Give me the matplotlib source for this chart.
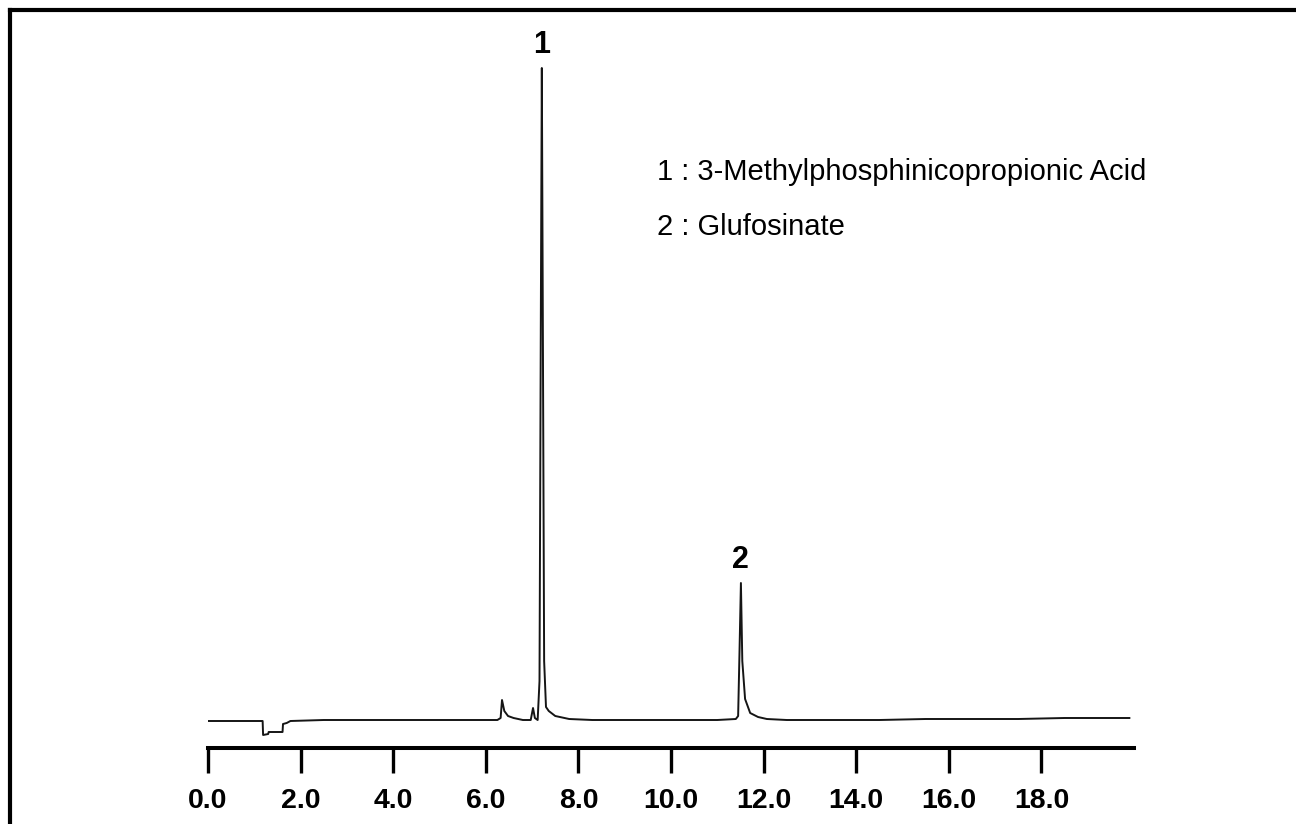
import numpy as np
import matplotlib
matplotlib.use("Agg")
import matplotlib.pyplot as plt
from matplotlib.lines import Line2D

plt.rcParams["font.family"] = ["Liberation Sans", "DejaVu Sans"]

# Chromatogram trace (time in min, signal above baseline)
time = [0.00, 0.60, 1.18, 1.19, 1.30, 1.31, 1.55, 1.61, 1.62, 1.70, 1.78, 2.50,
        3.50, 4.50, 5.50, 6.25, 6.32, 6.35, 6.40, 6.48, 6.60, 6.80, 6.97, 7.02,
        7.06, 7.12, 7.16, 7.19, 7.21, 7.23, 7.26, 7.30, 7.36, 7.50, 7.80, 8.30,
        9.00, 10.00, 11.00, 11.40, 11.45, 11.48, 11.51, 11.54, 11.60, 11.71,
        11.88, 12.07, 12.50, 13.50, 14.50, 15.50, 16.50, 17.50, 18.50, 19.90]
signal = [0, 0, 0, -14, -13, -11, -11, -11, -3, -2, 0, 1,
          1, 1, 1, 1, 3, 21, 10, 5, 3, 1, 1, 13,
          3, 1, 40, 420, 653, 420, 60, 14, 10, 5, 2, 1,
          1, 1, 1, 2, 5, 70, 138, 60, 22, 8,
          4, 2, 1, 1, 1, 2, 2, 2, 3, 3]

peak_times = [7.21, 11.51]
peak_heights = [653, 138]
peak_names = ["1", "2"]

compounds = ["1 : 3-Methylphosphinicopropionic Acid", "2 : Glufosinate"]

ticks = np.arange(0, 19, 2)

fig = plt.figure(figsize=(12.96, 8.24), dpi=100)
ax = fig.add_axes([208 / 1296, (824 - 748) / 824, 926 / 1296, 727 / 824])

ax.plot(time, signal, color="#151515", lw=1.4)

for t, h, name in zip(peak_times, peak_heights, peak_names):
    ax.text(t, h + 23, name, ha="center", va="center", fontsize=22,
            fontweight="bold")

ax.set_xlim(0, 20)
ax.set_ylim(-27, 700)
ax.set_xticks(ticks)
ax.set_xticklabels(["%.1f" % v for v in ticks], fontsize=20.5, fontweight="bold")
ax.tick_params(axis="x", direction="out", length=18, width=2.4, pad=11)
ax.yaxis.set_visible(False)
for s in ["left", "right", "top"]:
    ax.spines[s].set_visible(False)
ax.spines["bottom"].set_linewidth(2.9)

for i, c in enumerate(compounds):
    fig.text(657 / 1296, 1 - (172 + 55 * i) / 824, c, fontsize=21,
             ha="left", va="center")

# frame round the figure
fig.add_artist(Line2D([10 / 1296, 10 / 1296], [0, 1 - 10 / 824], color="black",
                      lw=3, transform=fig.transFigure))
fig.add_artist(Line2D([10 / 1296, 1], [1 - 10 / 824, 1 - 10 / 824], color="black",
                      lw=3, transform=fig.transFigure))

fig.savefig("out.png", dpi=100)
